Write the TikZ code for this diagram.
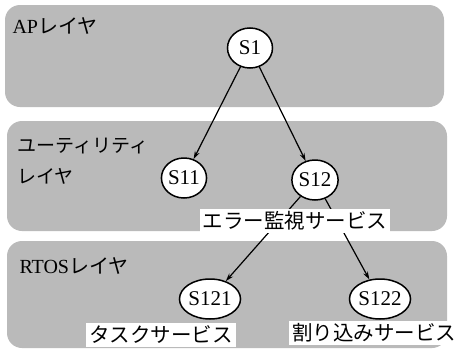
\documentclass[tikz,border=0pt]{standalone}
\usepackage{fontspec}
\setmainfont{Liberation Serif}
\newfontfamily\jp{Noto Sans CJK JP}
\usetikzlibrary{shapes.geometric,arrows.meta}
\begin{document}
\begin{tikzpicture}[x=1pt,y=-1pt,
  layerbox/.style={fill=black!27,rounded corners=15pt},
  svc/.style={ellipse,draw,fill=white,line width=1.5pt,minimum width=45pt,minimum height=40pt,inner sep=0pt,font=\fontsize{21}{21}\selectfont},
  arr/.style={line width=1.2pt,-{Stealth[length=8pt,width=5pt]}},
  lay/.style={anchor=west,align=left,font=\fontsize{20}{31}\selectfont},
  tag/.style={fill=white,inner xsep=3pt,inner ysep=3pt,font=\jp\fontsize{20.5}{20.5}\selectfont}]
\useasboundingbox (0,0) rectangle (457,351);
\fill[white] (0,0) rectangle (457,351);
\fill[layerbox] (5,5) rectangle (444,107);
\fill[layerbox] (7,121) rectangle (447,231);
\fill[layerbox] (7,241) rectangle (447,348);
\node[lay] (lap) at (9,26) {AP{\jp レイヤ}};
\node[lay,font=\fontsize{19}{31}\selectfont] (lut) at (14,161) {{\jp ユーティリティ}\\{\jp レイヤ}};
\node[lay] (lrt) at (16,266) {RTOS{\jp レイヤ}};
\node[svc] (s1) at (250,48) {S1};
\node[svc] (s11) at (184,178) {S11};
\node[svc] (s12) at (315,180) {S12};
\node[svc] (s121) at (210,299) {S121};
\node[svc] (s122) at (380,299) {S122};
\draw[arr] (s1) -- (s11);
\draw[arr] (s1) -- (s12);
\draw[arr] (s12) -- (s121);
\draw[arr] (s12) -- (s122);
\node[tag] (t12) at (295,221) {エラー監視サービス};
\node[tag] (t121) at (161,335) {タスクサービス};
\node[tag] (t122) at (374,333) {割り込みサービス};
\end{tikzpicture}
\end{document}
